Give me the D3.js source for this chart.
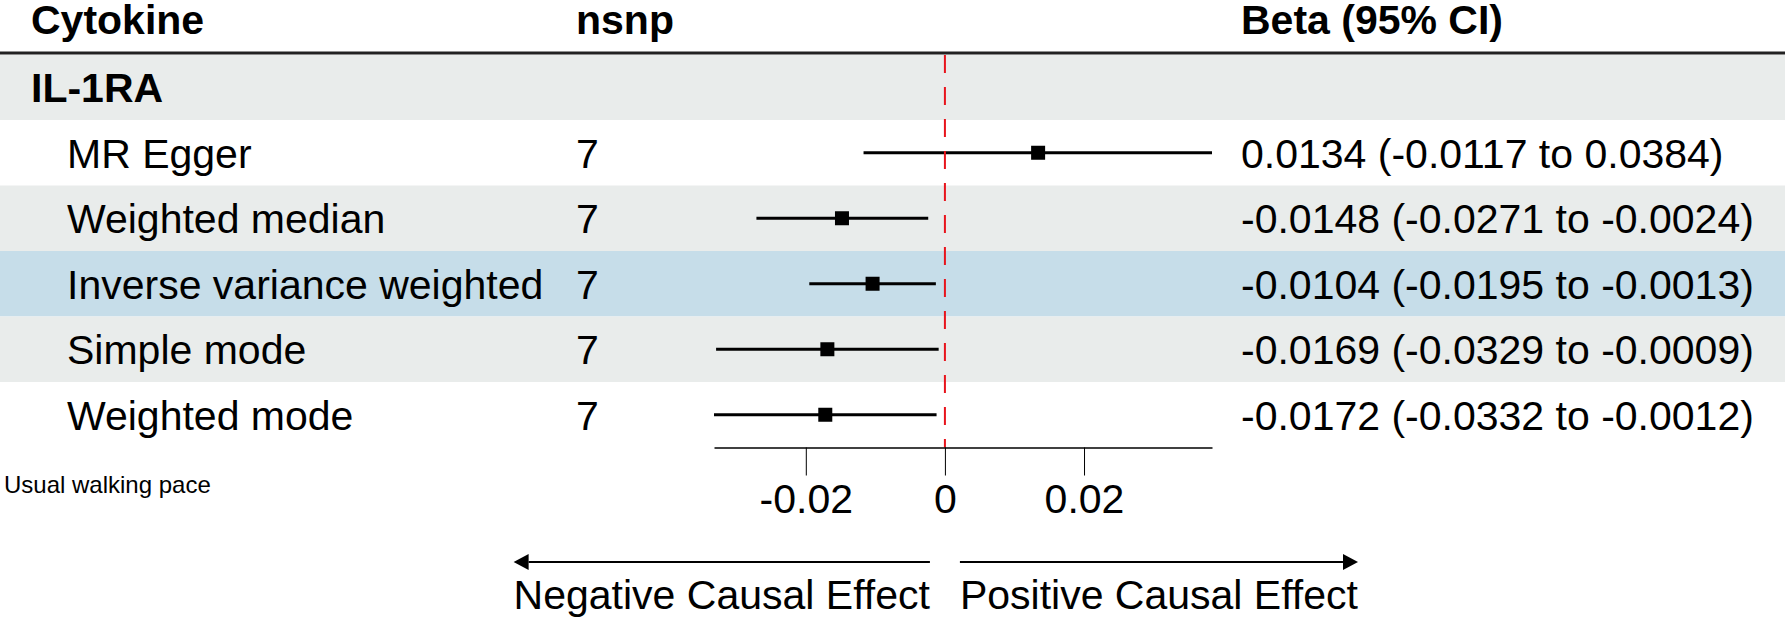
<!DOCTYPE html>
<html>
<head>
<meta charset="utf-8">
<script src="https://cdn.jsdelivr.net/npm/d3@7"></script>
<style>
  html, body { margin: 0; padding: 0; background: #fff; }
  svg { display: block; font-family: "Liberation Sans", Arial, sans-serif; }
</style>
</head>
<body>
<div id="chart"></div>
<script>
// data
var exposure = "IL-1RA";
var methods = ["MR Egger", "Weighted median", "Inverse variance weighted", "Simple mode", "Weighted mode"];
var nsnp = [7, 7, 7, 7, 7];
var beta = [0.0134, -0.0148, -0.0104, -0.0169, -0.0172];
var lower = [-0.0117, -0.0271, -0.0195, -0.0329, -0.0332];
var upper = [0.0384, -0.0024, -0.0013, -0.0009, -0.0012];
var tickValues = [-0.02, 0, 0.02];
var headers = ["Cytokine", "nsnp", "Beta (95% CI)"];
var outcome = "Usual walking pace";
var arrowLabels = ["Negative Causal Effect", "Positive Causal Effect"];

// row background (group row first, then one per method)
var rowFill = ["#e9eceb", "#ffffff", "#e9eceb", "#c6dde9", "#e9eceb", "#ffffff"];

var width = 1785, height = 622;
var fontSize = 41;

var svg = d3.select("#chart").append("svg")
    .attr("width", width)
    .attr("height", height);

var rows = [exposure].concat(methods);

var y = d3.scaleBand()
    .domain(d3.range(rows.length))
    .range([54.5, 447.5]);

var x = d3.scaleLinear()
    .domain([d3.min(lower), d3.max(upper)])
    .range([714, 1212]);

// row bands
svg.append("g").selectAll("rect")
    .data(rows)
    .enter().append("rect")
    .attr("x", 0)
    .attr("y", function(d, i) { return y(i); })
    .attr("width", width)
    .attr("height", y.bandwidth())
    .attr("fill", function(d, i) { return rowFill[i]; });

// header
var colX = [31, 576, 1241];
svg.append("g").selectAll("text")
    .data(headers)
    .enter().append("text")
    .attr("x", function(d, i) { return colX[i]; })
    .attr("y", 34)
    .attr("font-size", fontSize)
    .attr("font-weight", "bold")
    .text(function(d) { return d; });

svg.append("line")
    .attr("x1", 0).attr("x2", width)
    .attr("y1", 53).attr("y2", 53)
    .attr("stroke", "#222")
    .attr("stroke-width", 3);

// group label
svg.append("text")
    .attr("x", colX[0])
    .attr("y", y(0) + y.bandwidth() / 2 + 15)
    .attr("font-size", fontSize)
    .attr("font-weight", "bold")
    .text(exposure);

var rowG = svg.append("g").selectAll("g")
    .data(methods)
    .enter().append("g")
    .attr("transform", function(d, i) { return "translate(0," + (y(i + 1) + y.bandwidth() / 2) + ")"; });

rowG.append("text")
    .attr("x", 67)
    .attr("y", 15)
    .attr("font-size", fontSize)
    .text(function(d) { return d; });

rowG.append("text")
    .attr("x", colX[1])
    .attr("y", 15)
    .attr("font-size", fontSize)
    .text(function(d, i) { return nsnp[i]; });

rowG.append("text")
    .attr("x", colX[2])
    .attr("y", 15)
    .attr("font-size", fontSize)
    .text(function(d, i) {
        return beta[i].toFixed(4) + " (" + lower[i].toFixed(4) + " to " + upper[i].toFixed(4) + ")";
    });

// zero line
svg.append("line")
    .attr("x1", x(0)).attr("x2", x(0))
    .attr("y1", 55).attr("y2", 447.5)
    .attr("stroke", "#e8141c")
    .attr("stroke-width", 2)
    .attr("stroke-dasharray", "18,14");

// CIs + points
rowG.append("line")
    .attr("x1", function(d, i) { return x(lower[i]); })
    .attr("x2", function(d, i) { return x(upper[i]); })
    .attr("y1", 0).attr("y2", 0)
    .attr("stroke", "#000")
    .attr("stroke-width", 2.8);

var sq = 14;
rowG.append("rect")
    .attr("x", function(d, i) { return x(beta[i]) - sq / 2; })
    .attr("y", -sq / 2)
    .attr("width", sq)
    .attr("height", sq)
    .attr("fill", "#000");

// x axis
var xAxis = d3.axisBottom(x)
    .tickValues(tickValues)
    .tickSize(28)
    .tickSizeOuter(0)
    .tickPadding(8)
    .tickFormat(function(d) { return d === 0 ? "0" : d3.format(".2f")(d).replace("\u2212", "-"); });

var axisG = svg.append("g")
    .attr("transform", "translate(0,447.5)")
    .call(xAxis);
axisG.select(".domain").attr("stroke", "#000").attr("stroke-width", 1.5);
axisG.selectAll(".tick line").attr("stroke", "#000").attr("stroke-width", 1);
axisG.selectAll(".tick text")
    .attr("font-size", fontSize)
    .attr("font-family", "Liberation Sans, Arial, sans-serif")
    .attr("fill", "#000");

// outcome label
svg.append("text")
    .attr("x", 4)
    .attr("y", 493)
    .attr("font-size", 24)
    .text(outcome);

// direction arrows
var arrowY = 562, labelY = 609, gap = 15;

var negText = svg.append("text")
    .attr("x", x(0) - gap)
    .attr("y", labelY)
    .attr("text-anchor", "end")
    .attr("font-size", fontSize)
    .text(arrowLabels[0]);
var posText = svg.append("text")
    .attr("x", x(0) + gap)
    .attr("y", labelY)
    .attr("font-size", fontSize)
    .text(arrowLabels[1]);

var negLen = negText.node().getComputedTextLength();
var posLen = posText.node().getComputedTextLength();

function arrow(xFrom, xTo) {
    var dir = xTo > xFrom ? 1 : -1;
    var headL = 15, headH = 8;
    svg.append("line")
        .attr("x1", xFrom).attr("x2", xTo - dir * headL)
        .attr("y1", arrowY).attr("y2", arrowY)
        .attr("stroke", "#000")
        .attr("stroke-width", 2);
    svg.append("path")
        .attr("d", "M" + xTo + "," + arrowY +
            "L" + (xTo - dir * headL) + "," + (arrowY - headH) +
            "L" + (xTo - dir * headL) + "," + (arrowY + headH) + "Z")
        .attr("fill", "#000");
}
arrow(x(0) - gap, x(0) - gap - negLen);
arrow(x(0) + gap, x(0) + gap + posLen);
</script>
</body>
</html>
